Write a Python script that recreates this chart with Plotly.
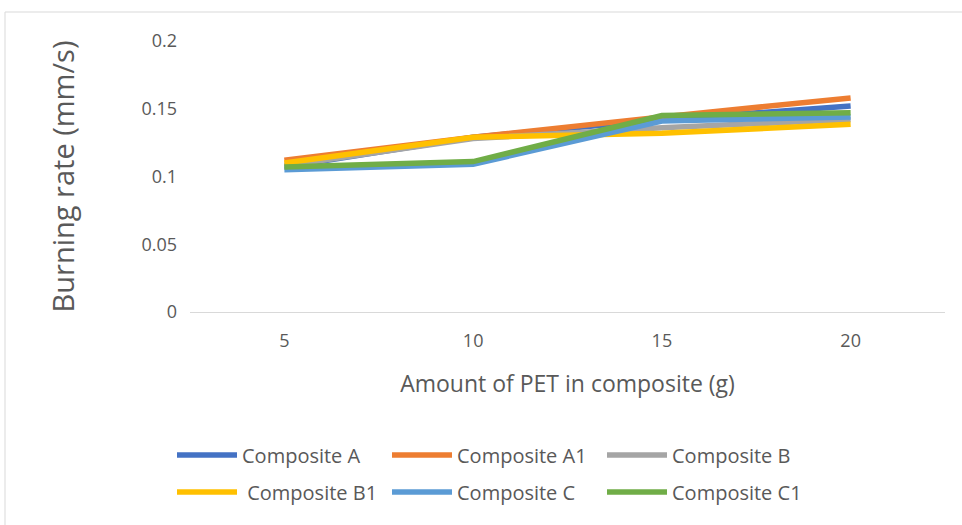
import plotly.graph_objects as go

categories = ["5", "10", "15", "20"]
series_names = ["Composite A", "Composite A1", "Composite B", "Composite B1", "Composite C", "Composite C1"]
legend_labels = ["Composite A", "Composite A1", "Composite B", " Composite B1", "Composite C", "Composite C1"]
comp_a = [0.107, 0.129, 0.142, 0.152]
comp_a1 = [0.112, 0.129, 0.144, 0.158]
comp_b = [0.108, 0.128, 0.136, 0.142]
comp_b1 = [0.110, 0.129, 0.132, 0.1385]
comp_c = [0.105, 0.109, 0.141, 0.144]
comp_c1 = [0.107, 0.111, 0.145, 0.147]
colors = ["#4472C4", "#ED7D31", "#A5A5A5", "#FFC000", "#5B9BD5", "#70AD47"]
y_ticks = [0, 0.05, 0.1, 0.15, 0.2]
y_tick_labels = ["0", "0.05", "0.1", "0.15", "0.2"]

W, H = 962, 525
L, R, T, B = 190, 17, 41, 213
pw = W - L - R
ph = H - T - B

def px_x(px):
    return (px - L) / pw

def px_y(py):
    return (H - B - py) / ph

fig = go.Figure()
all_vals = [comp_a, comp_a1, comp_b, comp_b1, comp_c, comp_c1]
for i, (name, lab, vals, col) in enumerate(zip(series_names, legend_labels, all_vals, colors)):
    fig.add_trace(go.Scatter(x=categories, y=vals, mode="lines", name=lab,
                             legend="legend" if i < 3 else "legend2",
                             line=dict(color=col, width=5.5)))

legend_common = dict(orientation="h", xanchor="left", yanchor="middle",
                     entrywidth=140, entrywidthmode="pixels", itemwidth=60,
                     font=dict(size=20, color="#595959", family="Open Sans, sans-serif"),
                     bgcolor="rgba(0,0,0,0)")

fig.update_layout(
    width=W, height=H,
    margin=dict(l=L, r=R, t=T, b=B),
    paper_bgcolor="white", plot_bgcolor="white",
    font=dict(family="Open Sans, sans-serif", color="#595959"),
    xaxis=dict(type="category", range=[-0.5, 3.5], showgrid=False, showline=True,
               linecolor="#D9D9D9", linewidth=1, ticks="", ticklabelstandoff=12,
               tickfont=dict(size=18, color="#595959"),
               title=dict(text="Amount of PET in composite (g)", font=dict(size=23, color="#595959"), standoff=25)),
    yaxis=dict(range=[0, 0.2], tickvals=y_ticks, ticktext=y_tick_labels, showgrid=False,
               zeroline=False, showline=False, ticks="", ticklabelstandoff=12,
               tickfont=dict(size=18, color="#595959"),
               title=dict(text="Burning rate (mm/s)", font=dict(size=29, color="#595959"), standoff=58)),
    legend=dict(x=px_x(172), y=px_y(455), **legend_common),
    legend2=dict(x=px_x(172), y=px_y(492), **legend_common),
    showlegend=True,
)

# frame: top and left edges only (the rest is cropped in the reference)
fig.add_shape(type="line", xref="paper", yref="paper",
              x0=px_x(5), x1=px_x(962), y0=px_y(12), y1=px_y(12),
              line=dict(color="#D9D9D9", width=1), layer="below")
fig.add_shape(type="line", xref="paper", yref="paper",
              x0=px_x(5), x1=px_x(5), y0=px_y(12), y1=px_y(525),
              line=dict(color="#D9D9D9", width=1), layer="below")

fig.write_html("out.html", config={"displayModeBar": False},
               post_script="document.body.style.margin='0';")
